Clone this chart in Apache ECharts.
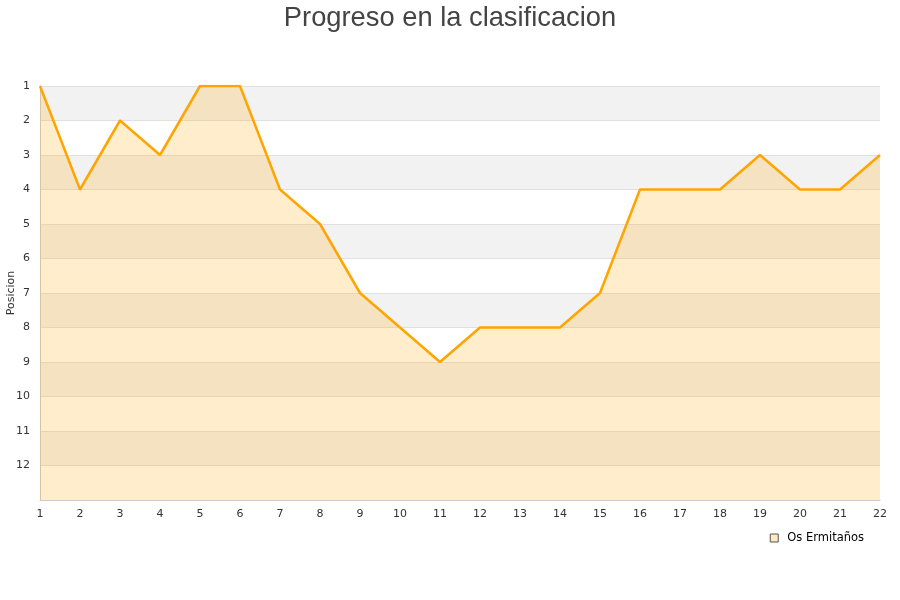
<!DOCTYPE html>
<html><head><meta charset="utf-8">
<script src="https://cdn.jsdelivr.net/npm/echarts@6/dist/echarts.min.js"></script>
<style>html,body{margin:0;padding:0;background:#fff}#c{width:900px;height:600px}</style>
</head><body><div id="c"></div>
<script>
const jornadas = ['1','2','3','4','5','6','7','8','9','10','11','12','13','14','15','16','17','18','19','20','21','22'];
const posiciones = [1,4,2,3,1,1,4,5,7,8,9,8,8,8,7,4,4,4,3,4,4,3];
const titulo = 'Progreso en la clasificacion';
const equipo = 'Os Ermitaños';

const chart = echarts.init(document.getElementById('c'), null, {renderer:'canvas'});
chart.setOption({
  animation:false,
  backgroundColor:'#fff',
  title:{text:titulo,left:'center',top:0,textStyle:{fontFamily:'Liberation Sans, Arial, sans-serif',fontSize:27.3,fontWeight:'normal',color:'#444'}},
  grid:{left:40,right:20,top:86,bottom:100,containLabel:false,outerBoundsMode:'none'},
  legend:{data:[{name:equipo,icon:'rect',itemStyle:{color:'#ffe9c0',borderColor:'#555',borderWidth:1}}],
    right:31,top:527,itemWidth:8,itemHeight:8,
    textStyle:{fontFamily:'DejaVu Sans, sans-serif',fontSize:11.5,color:'#000',padding:[0,0,0,4]}},
  xAxis:{type:'category',data:jornadas,boundaryGap:false,
    axisLine:{lineStyle:{color:'#ccc'}},axisTick:{show:false},
    axisLabel:{fontFamily:'DejaVu Sans, sans-serif',fontSize:11,color:'#333',margin:9},
    splitLine:{show:false}},
  yAxis:{type:'value',inverse:true,min:1,max:13,interval:1,name:'Posicion',nameLocation:'middle',nameGap:23,nameMoveOverlap:false,
    nameTextStyle:{fontFamily:'DejaVu Sans, sans-serif',fontSize:11,color:'#333'},
    axisLine:{show:true,lineStyle:{color:'#ccc'}},axisTick:{show:false},
    axisLabel:{fontFamily:'DejaVu Sans, sans-serif',fontSize:11,color:'#333',margin:10,
      formatter:v=>v>=13?'':String(v)},
    splitLine:{show:true,lineStyle:{color:'#e0e0e0'}},
    splitArea:{show:true,areaStyle:{color:['#f2f2f2','#ffffff']}}},
  series:[{name:equipo,type:'line',data:posiciones,symbol:'none',
    itemStyle:{color:'#ffa500'},
    lineStyle:{color:'#ffa500',width:2.5},
    areaStyle:{color:'rgba(255,165,0,0.2)',opacity:1,origin:'end'}}]
});
</script></body></html>
